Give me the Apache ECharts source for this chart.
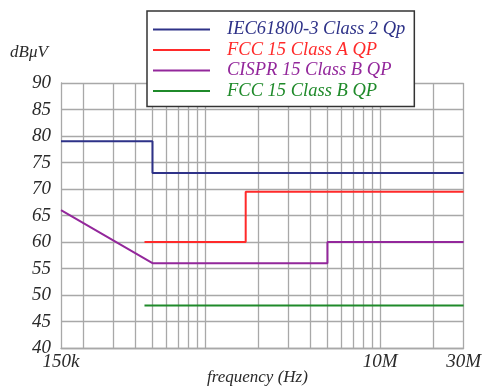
<!DOCTYPE html>
<html>
<head>
<meta charset="utf-8">
<script src="https://cdn.jsdelivr.net/npm/echarts@6/dist/echarts.min.js"></script>
<style>
  html, body { margin: 0; padding: 0; background: #fff; }
  #chart { width: 484px; height: 389px; }
</style>
</head>
<body>
<div id="chart"></div>
<script>
  var seriesNames = ['IEC61800-3 Class 2 Qp', 'FCC 15 Class A QP', 'CISPR 15 Class B QP', 'FCC 15 Class B QP'];
  var seriesColors = ['#2e3288', '#ff2a2a', '#93279b', '#1f8a2a'];

  // frequency (Hz) / level (dBuV) pairs, steps written as two points
  var iecFreq = [150000, 500000, 500000, 30000000];
  var iecLevel = [79, 79, 73, 73];
  var fccAFreq = [450000, 1705000, 1705000, 30000000];
  var fccALevel = [60, 60, 69.5, 69.5];
  var cisprFreq = [150000, 500000, 5000000, 5000000, 30000000];
  var cisprLevel = [66, 56, 56, 60, 60];
  var fccBFreq = [450000, 30000000];
  var fccBLevel = [48, 48];

  var gridFreqs = [200000, 300000, 400000, 500000, 600000, 700000, 800000, 900000, 1000000,
    2000000, 3000000, 4000000, 5000000, 6000000, 7000000, 8000000, 9000000, 10000000, 20000000, 30000000];
  var tickLabels = { 150000: '150k', 10000000: '10M', 30000000: '30M' };

  var serif = 'Liberation Serif';
  var labelRich = {
    it: { fontFamily: serif, fontStyle: 'italic', fontSize: 19, color: '#2a2a2a' }
  };

  function pairs(xs, ys) {
    return xs.map(function(x, i) { return [x, ys[i]]; });
  }

  var allData = [
    pairs(iecFreq, iecLevel),
    pairs(fccAFreq, fccALevel),
    pairs(cisprFreq, cisprLevel),
    pairs(fccBFreq, fccBLevel)
  ];

  var series = allData.map(function(d, i) {
    return {
      name: seriesNames[i],
      type: 'line',
      data: d,
      symbol: 'none',
      lineStyle: { color: seriesColors[i], width: 2 },
      itemStyle: { color: seriesColors[i] },
      z: 5
    };
  });

  // vertical grid lines at the usual 1-2-..-9 decade positions
  series.push({
    type: 'line',
    data: [],
    silent: true,
    z: 1,
    markLine: {
      silent: true,
      symbol: 'none',
      label: { show: false },
      lineStyle: { color: '#a8a8a8', width: 1.3, type: 'solid' },
      data: gridFreqs.map(function(f) { return { xAxis: f }; })
    }
  });

  var option = {
    animation: false,
    grid: { left: 61, right: 17, top: 83, bottom: 41 },
    xAxis: {
      type: 'log',
      logBase: 10,
      min: 150000,
      max: 30000000,
      splitLine: { show: false },
      axisTick: { show: false },
      axisLine: { lineStyle: { color: '#a8a8a8', width: 1.3 } },
      axisLabel: {
        customValues: [150000, 10000000, 30000000],
        formatter: function(v) {
          var t = tickLabels[Math.round(v)];
          return t ? '{it|' + t + '}' : '';
        },
        rich: labelRich,
        margin: 4
      }
    },
    yAxis: {
      type: 'value',
      min: 40,
      max: 90,
      interval: 5,
      axisTick: { show: false },
      axisLine: { show: true, lineStyle: { color: '#a8a8a8', width: 1.3 } },
      splitLine: { lineStyle: { color: '#a8a8a8', width: 1.3 } },
      axisLabel: {
        formatter: function(v) { return '{it|' + v + '}'; },
        rich: labelRich,
        margin: 10
      }
    },
    legend: {
      orient: 'vertical',
      left: 147,
      top: 11,
      padding: [9, 9, 6, 6],
      itemGap: 1.5,
      itemWidth: 57,
      itemHeight: 2,
      icon: 'rect',
      backgroundColor: '#fff',
      borderColor: '#333',
      borderWidth: 1.5,
      z: 10,
      textStyle: {
        fontFamily: serif,
        fontStyle: 'italic',
        fontSize: 18.5,
        lineHeight: 18.5,
        padding: [0, 0, 0, 12]
      },
      data: seriesNames.map(function(n, i) {
        return { name: n, textStyle: { color: seriesColors[i] } };
      })
    },
    graphic: [
      {
        type: 'text',
        left: 10,
        top: 44,
        style: { text: 'dBμV', font: 'italic 17px "Liberation Serif"', fill: '#2a2a2a' }
      },
      {
        type: 'text',
        left: 207,
        top: 369,
        style: { text: 'frequency (Hz)', font: 'italic 17px "Liberation Serif"', fill: '#2a2a2a' }
      }
    ],
    series: series
  };

  echarts.init(document.getElementById('chart')).setOption(option);
</script>
</body>
</html>
